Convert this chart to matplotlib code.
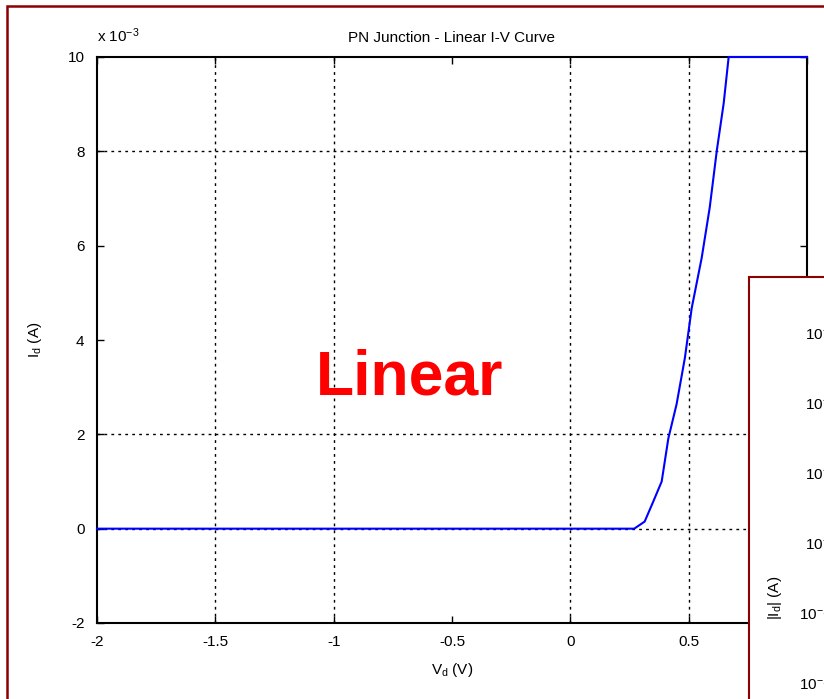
import matplotlib
matplotlib.use("Agg")
import matplotlib.pyplot as plt
from matplotlib.patches import Rectangle
from matplotlib.ticker import FuncFormatter
import numpy as np

plt.rcParams['font.family'] = ['Liberation Sans', 'DejaVu Sans']
plt.rcParams['mathtext.fontset'] = 'custom'
plt.rcParams['mathtext.rm'] = 'Liberation Sans'
plt.rcParams['mathtext.it'] = 'Liberation Sans:italic'
plt.rcParams['mathtext.bf'] = 'Liberation Sans:bold'

# tensione ai capi del diodo (V) e corrente (mA)
v_d = [-2.0, 0.27, 0.314, 0.35, 0.386, 0.414, 0.449, 0.484, 0.513,
       0.555, 0.589, 0.619, 0.648, 0.669, 1.0]
i_d_mA = [0.0, 0.0, 0.15, 0.57, 1.0, 1.91, 2.64, 3.62, 4.68,
          5.74, 6.81, 8.02, 9.02, 10.0, 10.0]

x_ticks = [-2, -1.5, -1, -0.5, 0, 0.5, 1]
y_ticks_mA = [-2, 0, 2, 4, 6, 8, 10]
# linee di griglia tracciate
grid_x = [-1.5, -1, 0, 0.5]
grid_y_mA = [0, 2, 8]

# tick della seconda finestra (scala log)
log_ticks = [1e-2, 1e-4, 1e-6, 1e-8, 1e-10, 1e-12, 1e-14]

DARKRED = '#8b0000'

fig = plt.figure(figsize=(8.24, 6.99), dpi=100)
W, H = 824.0, 699.0

# finestra principale: curva I-V lineare
ax = fig.add_axes([97 / W, 1 - 623 / H, (807 - 97) / W, (623 - 57) / H])
i_d = np.array(i_d_mA) * 1e-3
ax.plot(v_d, i_d, color='#0000ff', lw=1.5, clip_on=False, zorder=3)

ax.set_xlim(-2, 1)
ax.set_ylim(-2e-3, 10e-3)
ax.set_xticks(x_ticks)
ax.set_yticks(np.array(y_ticks_mA) * 1e-3)
ax.xaxis.set_major_formatter(FuncFormatter(lambda v, p: '%g' % v))
ax.yaxis.set_major_formatter(FuncFormatter(lambda v, p: '%g' % round(v * 1e3, 6)))
ax.tick_params(direction='in', top=True, right=True, length=5, width=1,
               labelsize=11, pad=9)
for s in ax.spines.values():
    s.set_linewidth(1.5)

# griglia punteggiata
grid_style = dict(color='black', linestyle=(0, (2, 3)), linewidth=1, zorder=1)
for gx in grid_x:
    ax.axvline(gx, **grid_style)
for gy in grid_y_mA:
    ax.axhline(gy * 1e-3, **grid_style)

ax.set_title('PN Junction - Linear I-V Curve', fontsize=11, y=1.026, pad=0)
ax.text(0, 1.026, r'x 10$^{-3}$', transform=ax.transAxes, fontsize=11,
        ha='left', va='baseline')
ax.set_xlabel(r'$\mathregular{V_d}$ (V)', fontsize=11, labelpad=8)
ax.set_ylabel(r'$\mathregular{I_d}$ (A)', fontsize=11)
ax.yaxis.set_label_coords(-0.074, 0.5)

ax.text(-0.68, 2.85e-3, 'Linear', color='red', fontsize=45,
        fontweight='bold', ha='center', va='baseline')

# seconda finestra sovrapposta (scala logaritmica)
panel = Rectangle((749 / W, -0.1), 0.3, 0.1 + 1 - 277 / H,
                  transform=fig.transFigure, facecolor='white',
                  edgecolor=DARKRED, lw=1.5, zorder=10)
fig.add_artist(panel)

ax2 = fig.add_axes([843 / W, -191 / H, 0.3, (890 - 305) / H], zorder=11)
ax2.set_yscale('log')
ax2.set_ylim(10 ** -17.94, 10 ** -1.23)
ax2.set_yticks(log_ticks)
ax2.minorticks_off()
ax2.tick_params(direction='in', labelsize=11, pad=5)
ax2.set_ylabel(r'$\mathregular{|I_d|}$ (A)', fontsize=11)
ax2.yaxis.set_label_coords(-0.24, 0.5)

# cornice esterna
frame = Rectangle((7.5 / W, -0.1), 1.2, 1.1 - 6.5 / H,
                  transform=fig.transFigure, facecolor='none',
                  edgecolor=DARKRED, lw=1.8, zorder=20)
fig.add_artist(frame)

fig.savefig('out.png', dpi=100)
